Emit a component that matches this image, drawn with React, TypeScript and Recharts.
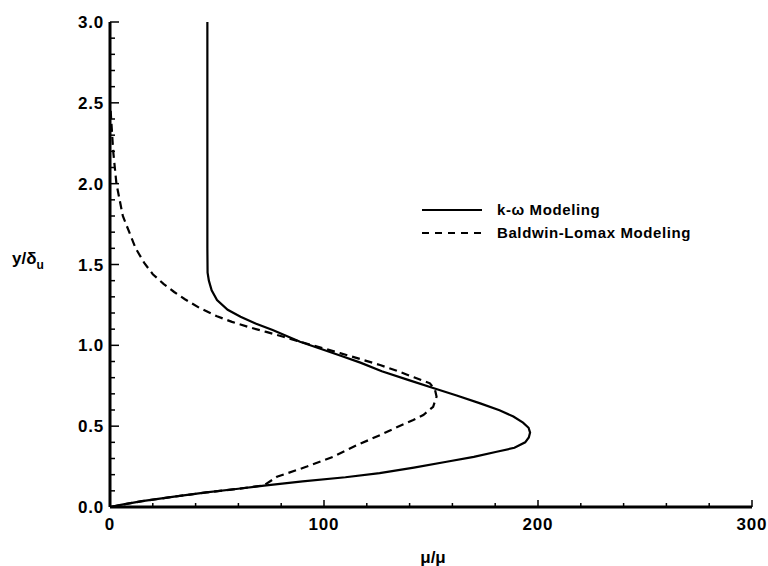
import { LineChart, Line, XAxis, YAxis, Legend } from 'recharts';

// k-omega profile (solid) top to bottom
const kwX = [45.5, 45.5, 45.5, 45.6, 46.2, 47.5, 50, 55, 61, 68, 76, 88.8, 98, 107.5, 117, 127, 140, 151, 162, 173, 182, 188.5, 193, 195.6, 196.3, 195.7, 194, 189, 180.7, 170, 157.3, 142, 126, 110, 90, 72, 60, 45, 30, 15, 5, 0];
const kwY = [3.0, 2.0, 1.6, 1.45, 1.4, 1.34, 1.28, 1.22, 1.177, 1.135, 1.095, 1.022, 0.98, 0.937, 0.893, 0.84, 0.783, 0.736, 0.69, 0.641, 0.598, 0.56, 0.522, 0.49, 0.46, 0.43, 0.4, 0.366, 0.342, 0.31, 0.28, 0.244, 0.21, 0.184, 0.158, 0.132, 0.113, 0.09, 0.064, 0.036, 0.013, 0];

// Baldwin-Lomax profile (dashed)
const blX = [0.3, 1.5, 3, 6, 12, 16, 20, 25, 30, 35, 42, 50, 57, 65, 73, 81, 89, 98, 107.5, 117, 126.2, 134, 142, 149.5, 151.9, 152.6, 151, 146.4, 141.7, 134, 126.2, 115, 104.3, 92, 78, 72, 60, 45, 30, 15, 5, 0];
const blY = [2.45, 2.2, 2.0, 1.8, 1.6, 1.51, 1.44, 1.38, 1.33, 1.285, 1.23, 1.18, 1.145, 1.112, 1.083, 1.053, 1.022, 0.988, 0.952, 0.915, 0.878, 0.843, 0.802, 0.765, 0.724, 0.682, 0.62, 0.569, 0.538, 0.493, 0.445, 0.38, 0.311, 0.25, 0.187, 0.134, 0.113, 0.09, 0.064, 0.036, 0.013, 0];

const xTicks = [0, 20, 40, 60, 80, 100, 120, 140, 160, 180, 200, 220, 240, 260, 280, 300];
const xLabels = [0, 100, 200, 300];
const yTicks = [0, 0.1, 0.2, 0.3, 0.4, 0.5, 0.6, 0.7, 0.8, 0.9, 1.0, 1.1, 1.2, 1.3, 1.4, 1.5, 1.6, 1.7, 1.8, 1.9, 2.0, 2.1, 2.2, 2.3, 2.4, 2.5, 2.6, 2.7, 2.8, 2.9, 3.0];
const yLabels = [0, 0.5, 1.0, 1.5, 2.0, 2.5, 3.0];

const seriesNames = ['k-ω Modeling', 'Baldwin-Lomax Modeling'];

const kwData = kwX.map((x, i) => ({ x, y: kwY[i] }));
const blData = blX.map((x, i) => ({ x, y: blY[i] }));

const FONT = '"Liberation Sans", Arial, sans-serif';

const YTick = (props: any) => {
  const { x, y, payload } = props;
  const major = yLabels.some((v) => Math.abs(v - payload.value) < 1e-6);
  return (
    <g>
      <line x1={x} x2={x + (major ? 9 : 5)} y1={y} y2={y} stroke="#000" strokeWidth={1.5} />
      {major && (
        <text x={x - 6} y={y} dy="0.36em" textAnchor="end" fontFamily={FONT} fontWeight="bold" fontSize={17} letterSpacing={0.8} fill="#000">
          {payload.value.toFixed(1)}
        </text>
      )}
    </g>
  );
};

const XTick = (props: any) => {
  const { x, y, payload } = props;
  const major = xLabels.includes(payload.value);
  return (
    <g>
      <line x1={x} x2={x} y1={y} y2={y - (major ? 7 : 4)} stroke="#000" strokeWidth={1.5} />
      {major && (
        <text x={x} y={y + 17} dy="0.36em" textAnchor="middle" fontFamily={FONT} fontWeight="bold" fontSize={17} letterSpacing={0.8} fill="#000">
          {payload.value}
        </text>
      )}
    </g>
  );
};

const LegendBox = () => (
  <svg width={300} height={50}>
    {seriesNames.map((name, i) => (
      <g key={name} transform={`translate(0, ${11 + i * 23})`}>
        <line x1={2} x2={62} y1={0} y2={0} stroke="#000" strokeWidth={1.8} strokeDasharray={i === 1 ? '7 6' : undefined} />
        <text x={77} y={0} dy="0.36em" fontFamily={FONT} fontWeight="bold" fontSize={15} letterSpacing={0.6} fill="#000">
          {name}
        </text>
      </g>
    ))}
  </svg>
);

export default function App() {
  return (
    <div style={{ position: 'absolute', left: 0, top: 0, background: '#fff' }}>
      <LineChart width={768} height={566} margin={{ top: 22, right: 16, bottom: 0, left: 0 }}>
        <XAxis
          type="number"
          dataKey="x"
          domain={[0, 300]}
          ticks={xTicks}
          interval={0}
          tickSize={0}
          tickMargin={0}
          tickLine={false}
          tick={<XTick />}
          height={59}
          axisLine={{ stroke: '#000', strokeWidth: 3 }}
          allowDataOverflow
          label={{
            content: (p: any) => (
              <text x={p.viewBox.x + p.viewBox.width / 2 + 2} y={p.viewBox.y + 50} dy="0.36em" textAnchor="middle" fontFamily={FONT} fontWeight="bold" fontSize={17} fill="#000">
                μ/μ
              </text>
            ),
          }}
        />
        <YAxis
          type="number"
          dataKey="y"
          domain={[0, 3]}
          ticks={yTicks}
          interval={0}
          tickSize={0}
          tickMargin={0}
          tickLine={false}
          tick={<YTick />}
          width={110}
          axisLine={{ stroke: '#000', strokeWidth: 3 }}
          allowDataOverflow
          label={{
            content: (p: any) => (
              <text x={p.viewBox.x + 12} y={p.viewBox.y + p.viewBox.height / 2 - 7} dy="0.36em" fontFamily={FONT} fontWeight="bold" fontSize={17} fill="#000">
                y/δ<tspan fontSize={12} dy={5}>u</tspan>
              </text>
            ),
          }}
        />
        <Legend
          layout="horizontal"
          verticalAlign="middle"
          align="center"
          content={<LegendBox />}
          wrapperStyle={{ left: 420, top: 199, width: 300, height: 50 }}
        />
        <Line
          data={kwData}
          dataKey="y"
          name={seriesNames[0]}
          type="linear"
          stroke="#000"
          strokeWidth={2.2}
          dot={false}
          activeDot={false}
          isAnimationActive={false}
        />
        <Line
          data={blData}
          dataKey="y"
          name={seriesNames[1]}
          type="linear"
          stroke="#000"
          strokeWidth={2.2}
          strokeDasharray="8 5"
          dot={false}
          activeDot={false}
          isAnimationActive={false}
        />
      </LineChart>
    </div>
  );
}
